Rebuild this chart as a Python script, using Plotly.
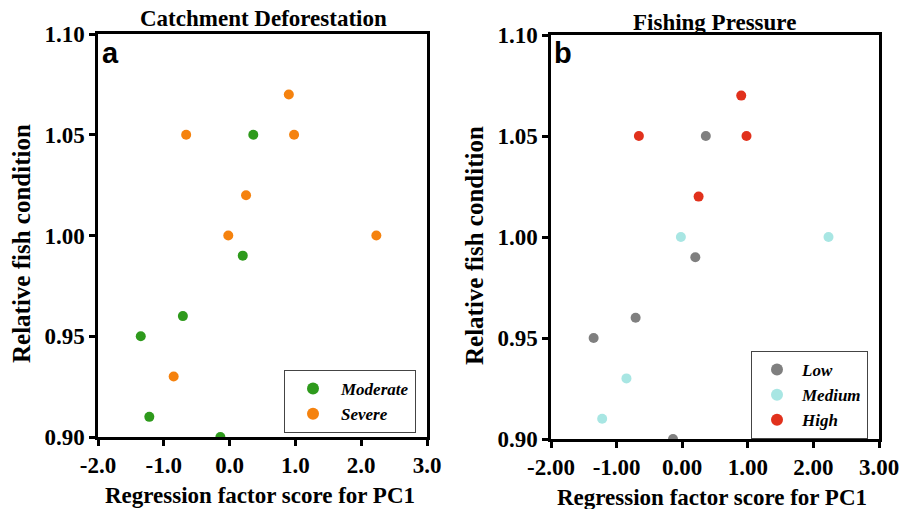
import plotly.graph_objects as go

# ---- data ----
# panel a: catchment deforestation groups
pc1_moderate = [0.36, 0.20, -0.71, -1.35, -1.22, -0.14]
cond_moderate = [1.05, 0.99, 0.96, 0.95, 0.91, 0.90]
pc1_severe = [-0.66, 0.90, 0.98, 0.25, -0.02, 2.23, -0.85]
cond_severe = [1.05, 1.07, 1.05, 1.02, 1.00, 1.00, 0.93]

# panel b: fishing pressure groups
pc1_low = [0.36, 0.20, -0.71, -1.35, -0.14]
cond_low = [1.05, 0.99, 0.96, 0.95, 0.90]
pc1_medium = [-0.02, 2.23, -0.85, -1.22]
cond_medium = [1.00, 1.00, 0.93, 0.91]
pc1_high = [-0.66, 0.90, 0.98, 0.25]
cond_high = [1.05, 1.07, 1.05, 1.02]

x_tickvals = [-2, -1, 0, 1, 2, 3]
x_ticktext_a = ["-2.0", "-1.0", "0.0", "1.0", "2.0", "3.0"]
x_ticktext_b = ["-2.00", "-1.00", "0.00", "1.00", "2.00", "3.00"]
y_tickvals = [0.90, 0.95, 1.00, 1.05, 1.10]
y_ticktext = ["0.90", "0.95", "1.00", "1.05", "1.10"]

W, H = 911, 509
SERIF = "Liberation Serif, Times New Roman, serif"
SANS = "Liberation Sans, Arial, sans-serif"

fig = go.Figure()
msize = 10
fig.add_trace(go.Scatter(x=pc1_moderate, y=cond_moderate, mode="markers", name="Moderate",
                         marker=dict(color="#2E9A1C", size=msize), xaxis="x", yaxis="y", legend="legend"))
fig.add_trace(go.Scatter(x=pc1_severe, y=cond_severe, mode="markers", name="Severe",
                         marker=dict(color="#F5820E", size=msize), xaxis="x", yaxis="y", legend="legend"))
fig.add_trace(go.Scatter(x=pc1_low, y=cond_low, mode="markers", name="Low",
                         marker=dict(color="#7F7F7F", size=msize), xaxis="x2", yaxis="y2", legend="legend2"))
fig.add_trace(go.Scatter(x=pc1_medium, y=cond_medium, mode="markers", name="Medium",
                         marker=dict(color="#A8E6E3", size=msize), xaxis="x2", yaxis="y2", legend="legend2"))
fig.add_trace(go.Scatter(x=pc1_high, y=cond_high, mode="markers", name="High",
                         marker=dict(color="#E1311C", size=msize), xaxis="x2", yaxis="y2", legend="legend2"))

tickfont = dict(family=SERIF, size=23, color="black", weight="bold")
axis_common = dict(showline=True, linecolor="black", linewidth=2.5, mirror=True,
                   ticks="outside", ticklen=6, tickwidth=2.5, tickcolor="black",
                   showgrid=False, zeroline=False, tickfont=tickfont, automargin=False)

def px_x(p):
    return p / W

def px_y(p):
    return 1 - p / H

legend_font = dict(family=SERIF, size=17, color="black", style="italic", weight="bold")

fig.update_layout(
    template="none",
    width=W, height=H,
    margin=dict(l=0, r=0, t=0, b=0, autoexpand=False),
    paper_bgcolor="white", plot_bgcolor="white",
    xaxis=dict(domain=[px_x(98), px_x(427)], range=[-2, 3], anchor="y",
               tickvals=x_tickvals, ticktext=x_ticktext_a, **axis_common),
    yaxis=dict(domain=[px_y(437), px_y(34)], range=[0.90, 1.10], anchor="x",
               tickvals=y_tickvals, ticktext=y_ticktext, **axis_common),
    xaxis2=dict(domain=[px_x(551), px_x(879)], range=[-2, 3], anchor="y2",
                tickvals=x_tickvals, ticktext=x_ticktext_b, **axis_common),
    yaxis2=dict(domain=[px_y(439), px_y(35)], range=[0.90, 1.10], anchor="x2",
                tickvals=y_tickvals, ticktext=y_ticktext, **axis_common),
    legend=dict(x=px_x(284), y=px_y(370), xanchor="left", yanchor="top",
                bordercolor="#444444", borderwidth=1, bgcolor="white",
                itemsizing="constant", itemwidth=46, tracegroupgap=0, font=legend_font),
    legend2=dict(x=px_x(751), y=px_y(351), xanchor="left", yanchor="top",
                 bordercolor="#444444", borderwidth=1, bgcolor="white",
                 itemsizing="constant", itemwidth=40, tracegroupgap=0, font=legend_font),
    showlegend=True,
)

title_font = dict(family=SERIF, size=23, color="black", weight="bold")
xtitle_font = dict(family=SERIF, size=23, color="black", weight="bold")
ytitle_font = dict(family=SERIF, size=25, color="black", weight="bold")
label_font = dict(family=SANS, size=29, color="black", weight="bold")

ann = [
    dict(text="Catchment Deforestation", x=px_x(263), y=px_y(19), font=title_font),
    dict(text="Fishing Pressure", x=px_x(714), y=px_y(22), font=title_font),
    dict(text="Regression factor score for PC1", x=px_x(260), y=px_y(495), font=xtitle_font),
    dict(text="Regression factor score for PC1", x=px_x(712), y=px_y(497), font=xtitle_font),
    dict(text="Relative fish condition", x=px_x(22), y=px_y(244), font=ytitle_font, textangle=-90),
    dict(text="Relative fish condition", x=px_x(474), y=px_y(246), font=ytitle_font, textangle=-90),
]
for a in ann:
    fig.add_annotation(xref="paper", yref="paper", showarrow=False,
                       xanchor="center", yanchor="middle", **a)

fig.add_annotation(text="a", xref="paper", yref="paper", x=px_x(100), y=px_y(53),
                   xanchor="left", yanchor="middle", showarrow=False, font=label_font)
fig.add_annotation(text="b", xref="paper", yref="paper", x=px_x(552), y=px_y(53),
                   xanchor="left", yanchor="middle", showarrow=False, font=label_font)

fig.write_html("out.html", config={"displayModeBar": False},
               post_script="document.body.style.margin='0';document.body.style.overflow='hidden';")
